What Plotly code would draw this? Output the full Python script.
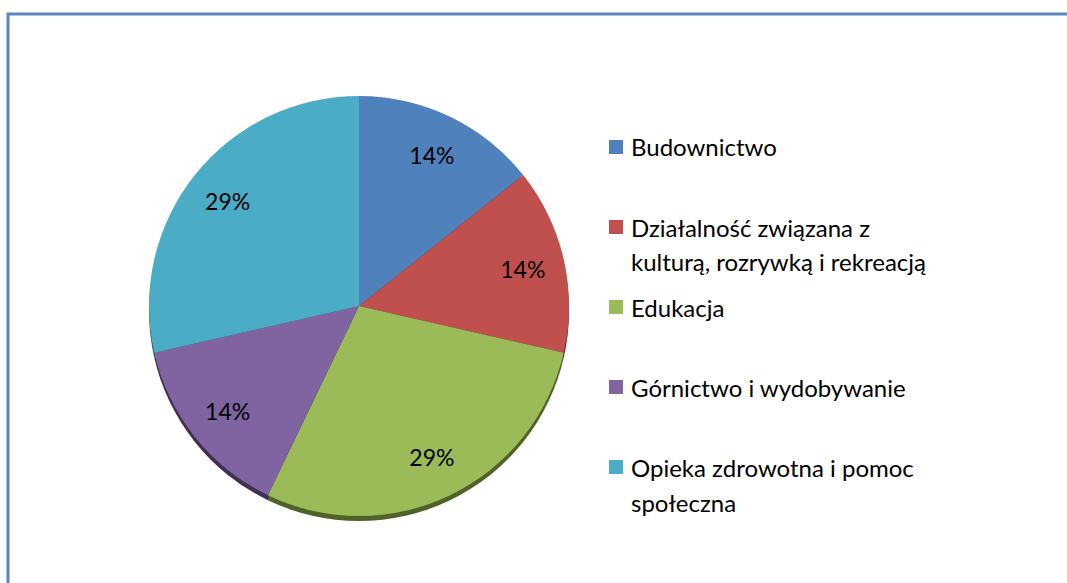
import plotly.graph_objects as go

categories = ['Budownictwo',
              'Działalność związana z<br>kulturą, rozrywką i rekreacją',
              'Edukacja',
              'Górnictwo i wydobywanie',
              'Opieka zdrowotna i pomoc<br>społeczna']
counts = [1, 1, 2, 1, 2]

colors = ['#4F81BD', '#C0504D', '#9BBB59', '#8064A2', '#4BACC6']
shadow_colors = ['#2B466A', '#632523', '#4F6228', '#403152', '#215968']

W, H = 1067, 583
cx, cy, r = 359, 306, 210
font = 'Lato, Carlito, Calibri, sans-serif'


def dom(dy=0):
    return dict(x=[(cx - r) / W, (cx + r) / W],
                y=[(H - cy - dy - r) / H, (H - cy - dy + r) / H])


fig = go.Figure()

# darker copy a few px lower, gives the bevelled rim at the bottom
fig.add_trace(go.Pie(
    values=counts, labels=categories, sort=False, direction='clockwise',
    marker=dict(colors=shadow_colors, line=dict(width=0)),
    textinfo='none', hoverinfo='skip', showlegend=False, domain=dom(5),
))

fig.add_trace(go.Pie(
    values=counts, labels=categories, sort=False, direction='clockwise',
    marker=dict(colors=colors, line=dict(width=0)),
    textinfo='none', showlegend=False, domain=dom(),
))

# transparent ring on top just to push the % labels out like Excel does
fig.add_trace(go.Pie(
    values=counts, labels=categories, sort=False, direction='clockwise',
    hole=0.6,
    marker=dict(colors=['rgba(0,0,0,0)'] * len(counts), line=dict(width=0)),
    texttemplate='%{percent:.0%}', textposition='inside',
    insidetextorientation='horizontal',
    textfont=dict(family=font, size=23, color='black'),
    hoverinfo='skip', showlegend=False, domain=dom(),
))

# legend drawn by hand so the items keep an even 80px pitch
shapes = [dict(type='rect', xref='paper', yref='paper',
               x0=8 / W, x1=1.02, y0=-0.02, y1=(H - 14) / H,
               line=dict(color='#5A86C3', width=3), fillcolor='rgba(0,0,0,0)')]
annotations = []
for i, (lab, col) in enumerate(zip(categories, colors)):
    y0 = 147 + 80 * i
    shapes.append(dict(type='rect', xref='paper', yref='paper',
                       x0=609 / W, x1=623 / W,
                       y0=(H - y0 - 7) / H, y1=(H - y0 + 7) / H,
                       fillcolor=col, line=dict(width=0)))
    for j, line in enumerate(lab.split('<br>')):
        annotations.append(dict(
            text=line, xref='paper', yref='paper',
            x=629 / W, y=(H - y0 - 35 * j) / H,
            xanchor='left', yanchor='middle', showarrow=False,
            font=dict(family=font, size=24, color='black')))

fig.update_layout(
    width=W, height=H,
    margin=dict(l=0, r=0, t=0, b=0),
    paper_bgcolor='white',
    shapes=shapes,
    annotations=annotations,
)

fig.write_html("out.html", config={'displayModeBar': False},
               post_script="document.body.style.margin='0';")
